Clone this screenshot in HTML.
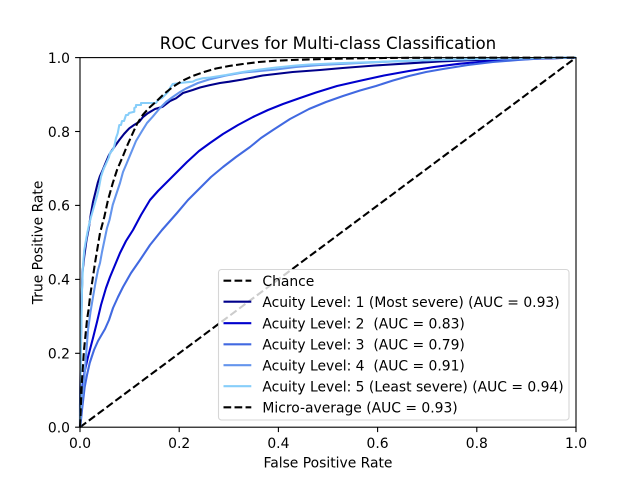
<!DOCTYPE html>
<html>
<head>
<meta charset="utf-8">
<style>
html,body{margin:0;padding:0;background:#fff;}
svg{display:block;}
text{font-family:"DejaVu Sans","Liberation Sans",sans-serif;fill:#000;}
</style>
</head>
<body>
<svg width="640" height="480" viewBox="0 0 640 480" xmlns="http://www.w3.org/2000/svg">
<rect x="0" y="0" width="640" height="480" fill="#fff"/>
<!-- chance -->
<line x1="80" y1="427.2" x2="576" y2="57.6" stroke="#000" stroke-width="2.08" stroke-dasharray="7.7,3.33" fill="none"/>
<g fill="none" stroke-width="2.08" stroke-linejoin="round" stroke-linecap="butt">
<!-- curve 1 darkblue -->
<polyline stroke="#00008b" points="80,427 80,405 80.4,380 80.8,350 81.3,320 81.8,295 82.5,272 84.3,256 86.5,240 89,227 91,213 93,202 95.5,192 97.7,183 100,176 102.7,170 106,162 109,155 111,151.7 115,146 119.3,140 124,134 129.3,128.3 134,125 139.3,121.7 143,117 147.7,113.3 155,109 162.7,106.7 170,101 176,98.3 183,93 192.7,90 200,87.5 209.3,85.3 220,83 229.3,81.7 242.7,79.5 262.7,75.5 292.7,72 320,70 342.7,68 375,65.5 409.3,63.3 440,61.5 476,60 510,59 542.7,58.3 576,57.6"/>
<!-- curve 2 mediumblue -->
<polyline stroke="#0000cd" points="80,427 80.5,405 82,390 84.5,372 88,357 93,338 97,322 101,305 106,288 110,277 115,265 120,253 126,241 133,230 141,215 150,200 158,191 167,182 174,175 187,162 199,151 210,143 223,134 238,125 253,117 268,110 283,104 300,98 316,92.5 337,86 359,81 384,75.5 409,71 434,67 459,63.8 484,61.5 509,60 530,59 549,58.3 576,57.6"/>
<!-- curve 3 royalblue -->
<polyline stroke="#4169e1" points="80,427 80.7,423 82,410 84.7,387 87,375 89.7,363 94,350 98,341 105,329 109,320 113,308 118,297 123,287 131,273 140,260 150,245 162,230 177,213 188,200 200,188 211,177 223,167 236,157 250,147 261,138 273,130 290,119 309,109 326,102 343,96 360,90.5 376,86 393,80.5 409,76 426,72 443,69 468,65 493,62 518,60 543,58.3 576,57.6"/>
<!-- curve 4 cornflowerblue -->
<polyline stroke="#6495ed" points="80,427 80.5,418 81,410 82,400 83.5,385 85,370 86.5,350 88,330 90.5,312 93,297 96,280 98,270 100,263 102,252 104.5,240 107,228 109.5,220 112.7,205 116,195 120,183 123,172 126,165 131,153 136,141 142,131 147,123 152.7,116.7 160,108 166,102 172.7,97 180,92 186,88.5 198,83 209,79.5 226,75.5 243,72.5 260,71 276,69.5 296,67 320,65 343,63.8 375,62.2 409,60.8 440,60 476,59 510,58.5 543,58 576,57.6"/>
<!-- curve 5 lightskyblue -->
<polyline stroke="#87cefa" points="80,427 80.3,400 80.8,360 81.5,320 82,290 83,265 84.3,250 86,240 87.5,232 89,225 91,217 93,210 95,203 97,196 98.5,190 101,176.7 102.5,172 104,168 105,166 107.7,160 109,157 110,153 112.7,150 114,147 115,143 116,138 117.7,133.3 119.3,125 121,125 122,121 124,121 126,115 128,115 129,113 134.3,111.7 134.3,108 136,107 136,105 141,105 141,103 156,103 158,100 162,98 165,95 168,92 170,88 172.7,84 180,83 186,82.3 192.7,81.7 196,80 202.7,78.3 210,77.5 226,75 242.7,72 260,69.5 276,67.5 296,65.5 309,64.5 342.7,63 375,62 409.3,60.7 440,59.8 476,59 510,58.5 543,58 576,57.6"/>
<!-- micro -->
<polyline stroke="#000" stroke-dasharray="7.7,3.33" points="80,427 80.7,410 82,380 84,350 87,320 88.5,310 90,297 92.5,280 95,263 97.5,248 100,233 104.3,217 108,200 112.7,183.3 117,170 122.7,156.7 127,146 132.7,133.3 137,124 142.7,115 149,108 156,101.7 164,94 172.7,87 182,81 192.7,76 204,72 216,68.5 229,66 242.7,64 259,62 276,60.7 292,60 309,59.4 334,58.8 359,58.3 384,58 409,57.8 576,57.6"/>
</g>
<!-- axes spines -->
<rect x="80" y="57.6" width="496" height="369.6" fill="none" stroke="#000" stroke-width="1.1"/>
<!-- ticks -->
<g stroke="#000" stroke-width="1.1">
<line x1="80" y1="427.2" x2="80" y2="432.1"/>
<line x1="179.2" y1="427.2" x2="179.2" y2="432.1"/>
<line x1="278.4" y1="427.2" x2="278.4" y2="432.1"/>
<line x1="377.6" y1="427.2" x2="377.6" y2="432.1"/>
<line x1="476.8" y1="427.2" x2="476.8" y2="432.1"/>
<line x1="576" y1="427.2" x2="576" y2="432.1"/>
<line x1="75.1" y1="427.2" x2="80" y2="427.2"/>
<line x1="75.1" y1="353.3" x2="80" y2="353.3"/>
<line x1="75.1" y1="279.4" x2="80" y2="279.4"/>
<line x1="75.1" y1="205.4" x2="80" y2="205.4"/>
<line x1="75.1" y1="131.5" x2="80" y2="131.5"/>
<line x1="75.1" y1="57.6" x2="80" y2="57.6"/>
</g>
<g font-size="13.89" text-anchor="middle">
<text x="80" y="448">0.0</text>
<text x="179.2" y="448">0.2</text>
<text x="278.4" y="448">0.4</text>
<text x="377.6" y="448">0.6</text>
<text x="476.8" y="448">0.8</text>
<text x="576" y="448">1.0</text>
</g>
<g font-size="13.89" text-anchor="end">
<text x="70" y="432.5">0.0</text>
<text x="70" y="358.6">0.2</text>
<text x="70" y="284.7">0.4</text>
<text x="70" y="210.7">0.6</text>
<text x="70" y="136.8">0.8</text>
<text x="70" y="62.9">1.0</text>
</g>
<text x="328" y="467.5" font-size="13.89" text-anchor="middle">False Positive Rate</text>
<text x="0" y="0" font-size="13.89" text-anchor="middle" transform="translate(42.5,242.4) rotate(-90)">True Positive Rate</text>
<text x="328" y="49" font-size="16.67" text-anchor="middle">ROC Curves for Multi-class Classification</text>
<!-- legend -->
<rect x="218.5" y="269.5" width="350.5" height="150.5" rx="3" ry="3" fill="#fff" fill-opacity="0.8" stroke="#cccccc" stroke-opacity="0.8" stroke-width="1.1"/>
<g stroke-width="2.08" fill="none">
<line x1="223.5" y1="280.7" x2="251.3" y2="280.7" stroke="#000" stroke-dasharray="7.7,3.33"/>
<line x1="223.5" y1="301.7" x2="251.3" y2="301.7" stroke="#00008b"/>
<line x1="223.5" y1="323.2" x2="251.3" y2="323.2" stroke="#0000cd"/>
<line x1="223.5" y1="344.3" x2="251.3" y2="344.3" stroke="#4169e1"/>
<line x1="223.5" y1="365.2" x2="251.3" y2="365.2" stroke="#6495ed"/>
<line x1="223.5" y1="386.2" x2="251.3" y2="386.2" stroke="#87cefa"/>
<line x1="223.5" y1="407.3" x2="251.3" y2="407.3" stroke="#000" stroke-dasharray="7.7,3.33"/>
</g>
<g font-size="13.89">
<text x="262.4" y="286">Chance</text>
<text x="262.4" y="307">Acuity Level: 1 (Most severe) (AUC = 0.93)</text>
<text x="262.4" y="328.5">Acuity Level: 2&#160; (AUC = 0.83)</text>
<text x="262.4" y="349.6">Acuity Level: 3&#160; (AUC = 0.79)</text>
<text x="262.4" y="370.5">Acuity Level: 4&#160; (AUC = 0.91)</text>
<text x="262.4" y="391.5">Acuity Level: 5 (Least severe) (AUC = 0.94)</text>
<text x="262.4" y="412.6">Micro-average (AUC = 0.93)</text>
</g>
</svg>
</body>
</html>
